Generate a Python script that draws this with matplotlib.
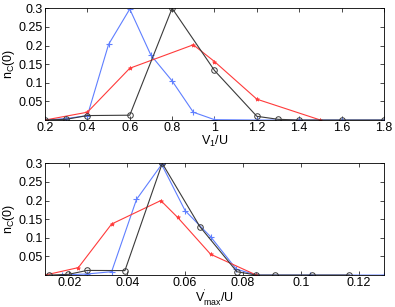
import matplotlib
matplotlib.use("Agg")
import matplotlib.pyplot as plt
from matplotlib.ticker import FuncFormatter

plt.rcParams['font.family'] = ['Liberation Sans', 'DejaVu Sans']
plt.rcParams['font.size'] = 9
plt.rcParams['mathtext.fontset'] = 'custom'
plt.rcParams['mathtext.rm'] = 'Liberation Sans'
plt.rcParams['mathtext.it'] = 'Liberation Sans'

# top panel: V1/U
v1_blue = [0.2, 0.3, 0.4, 0.5, 0.6, 0.7, 0.8, 0.9, 1.0, 1.2, 1.4, 1.6, 1.8]
n_blue = [0.0, 0.004, 0.012, 0.203, 0.298, 0.174, 0.105, 0.021, 0.001, 0.0, 0.0, 0.0, 0.0]
v1_red = [0.2, 0.4, 0.6, 0.9, 1.0, 1.2, 1.5]
n_red = [0.0, 0.021, 0.139, 0.202, 0.157, 0.056, 0.0]
v1_black = [0.2, 0.3, 0.4, 0.6, 0.8, 1.0, 1.2, 1.3, 1.4, 1.6, 1.8]
n_black = [0.0, 0.002, 0.012, 0.013, 0.3, 0.133, 0.010, 0.002, 0.0, 0.0, 0.0]

# bottom panel: V'max/U
vm_blue = [0.0174, 0.0262, 0.0346, 0.0432, 0.0519, 0.0600, 0.0688, 0.0777, 0.0846, 0.1033, 0.1287]
nm_blue = [0.0, 0.003, 0.009, 0.203, 0.297, 0.173, 0.103, 0.016, 0.0, 0.0, 0.0]
vm_red = [0.0116, 0.0231, 0.0346, 0.0516, 0.0574, 0.0688, 0.0846]
nm_red = [0.0, 0.020, 0.137, 0.200, 0.155, 0.056, 0.0]
vm_black = [0.0131, 0.0197, 0.0262, 0.0392, 0.0521, 0.0651, 0.0779, 0.0846, 0.0910, 0.1038, 0.1168]
nm_black = [0.0, 0.002, 0.0125, 0.012, 0.300, 0.130, 0.009, 0.0, 0.0, 0.0, 0.0]

yticks = [0.05, 0.1, 0.15, 0.2, 0.25, 0.3]
top_xticks = [0.2, 0.4, 0.6, 0.8, 1.0, 1.2, 1.4, 1.6, 1.8]
bot_xticks = [0.02, 0.04, 0.06, 0.08, 0.1, 0.12]

blue = '#5f7fff'
red = '#ff3b3b'
black = '#3a3a3a'

fmt = FuncFormatter(lambda v, p: '%g' % round(v, 4))

fig = plt.figure(figsize=(3.95, 3.07), dpi=100)
ax1 = fig.add_axes([0.114, 0.609, 0.858, 0.364])
ax2 = fig.add_axes([0.114, 0.104, 0.858, 0.364])


def draw(ax, xb, yb, xr, yr, xk, yk):
    ax.plot(xb, yb, color=blue, lw=0.8, marker='+', ms=4, mew=0.8)
    ax.plot(xr, yr, color=red, lw=0.8, marker='*', ms=3, mew=0.5)
    ax.plot(xk, yk, color=black, lw=0.8, marker='o', ms=4, mfc='none', mew=0.7)
    ax.set_ylim(0, 0.3)
    ax.set_yticks(yticks)
    ax.yaxis.set_major_formatter(fmt)
    ax.xaxis.set_major_formatter(fmt)
    ax.tick_params(direction='in', top=True, right=True, length=3, width=0.5, pad=1.5)
    for s in ax.spines.values():
        s.set_linewidth(0.6)
    ax.set_ylabel('n$_C$(0)', labelpad=1)


draw(ax1, v1_blue, n_blue, v1_red, n_red, v1_black, n_black)
ax1.set_xlim(0.2, 1.8)
ax1.set_xticks(top_xticks)
ax1.set_xlabel('V$_1$/U', labelpad=0)

draw(ax2, vm_blue, nm_blue, vm_red, nm_red, vm_black, nm_black)
ax2.set_xlim(0.0116, 0.1287)
ax2.set_xticks(bot_xticks)
ax2.set_xlabel("V$^{'}_{max}$/U", labelpad=-1)

fig.savefig('out.png', dpi=100)
